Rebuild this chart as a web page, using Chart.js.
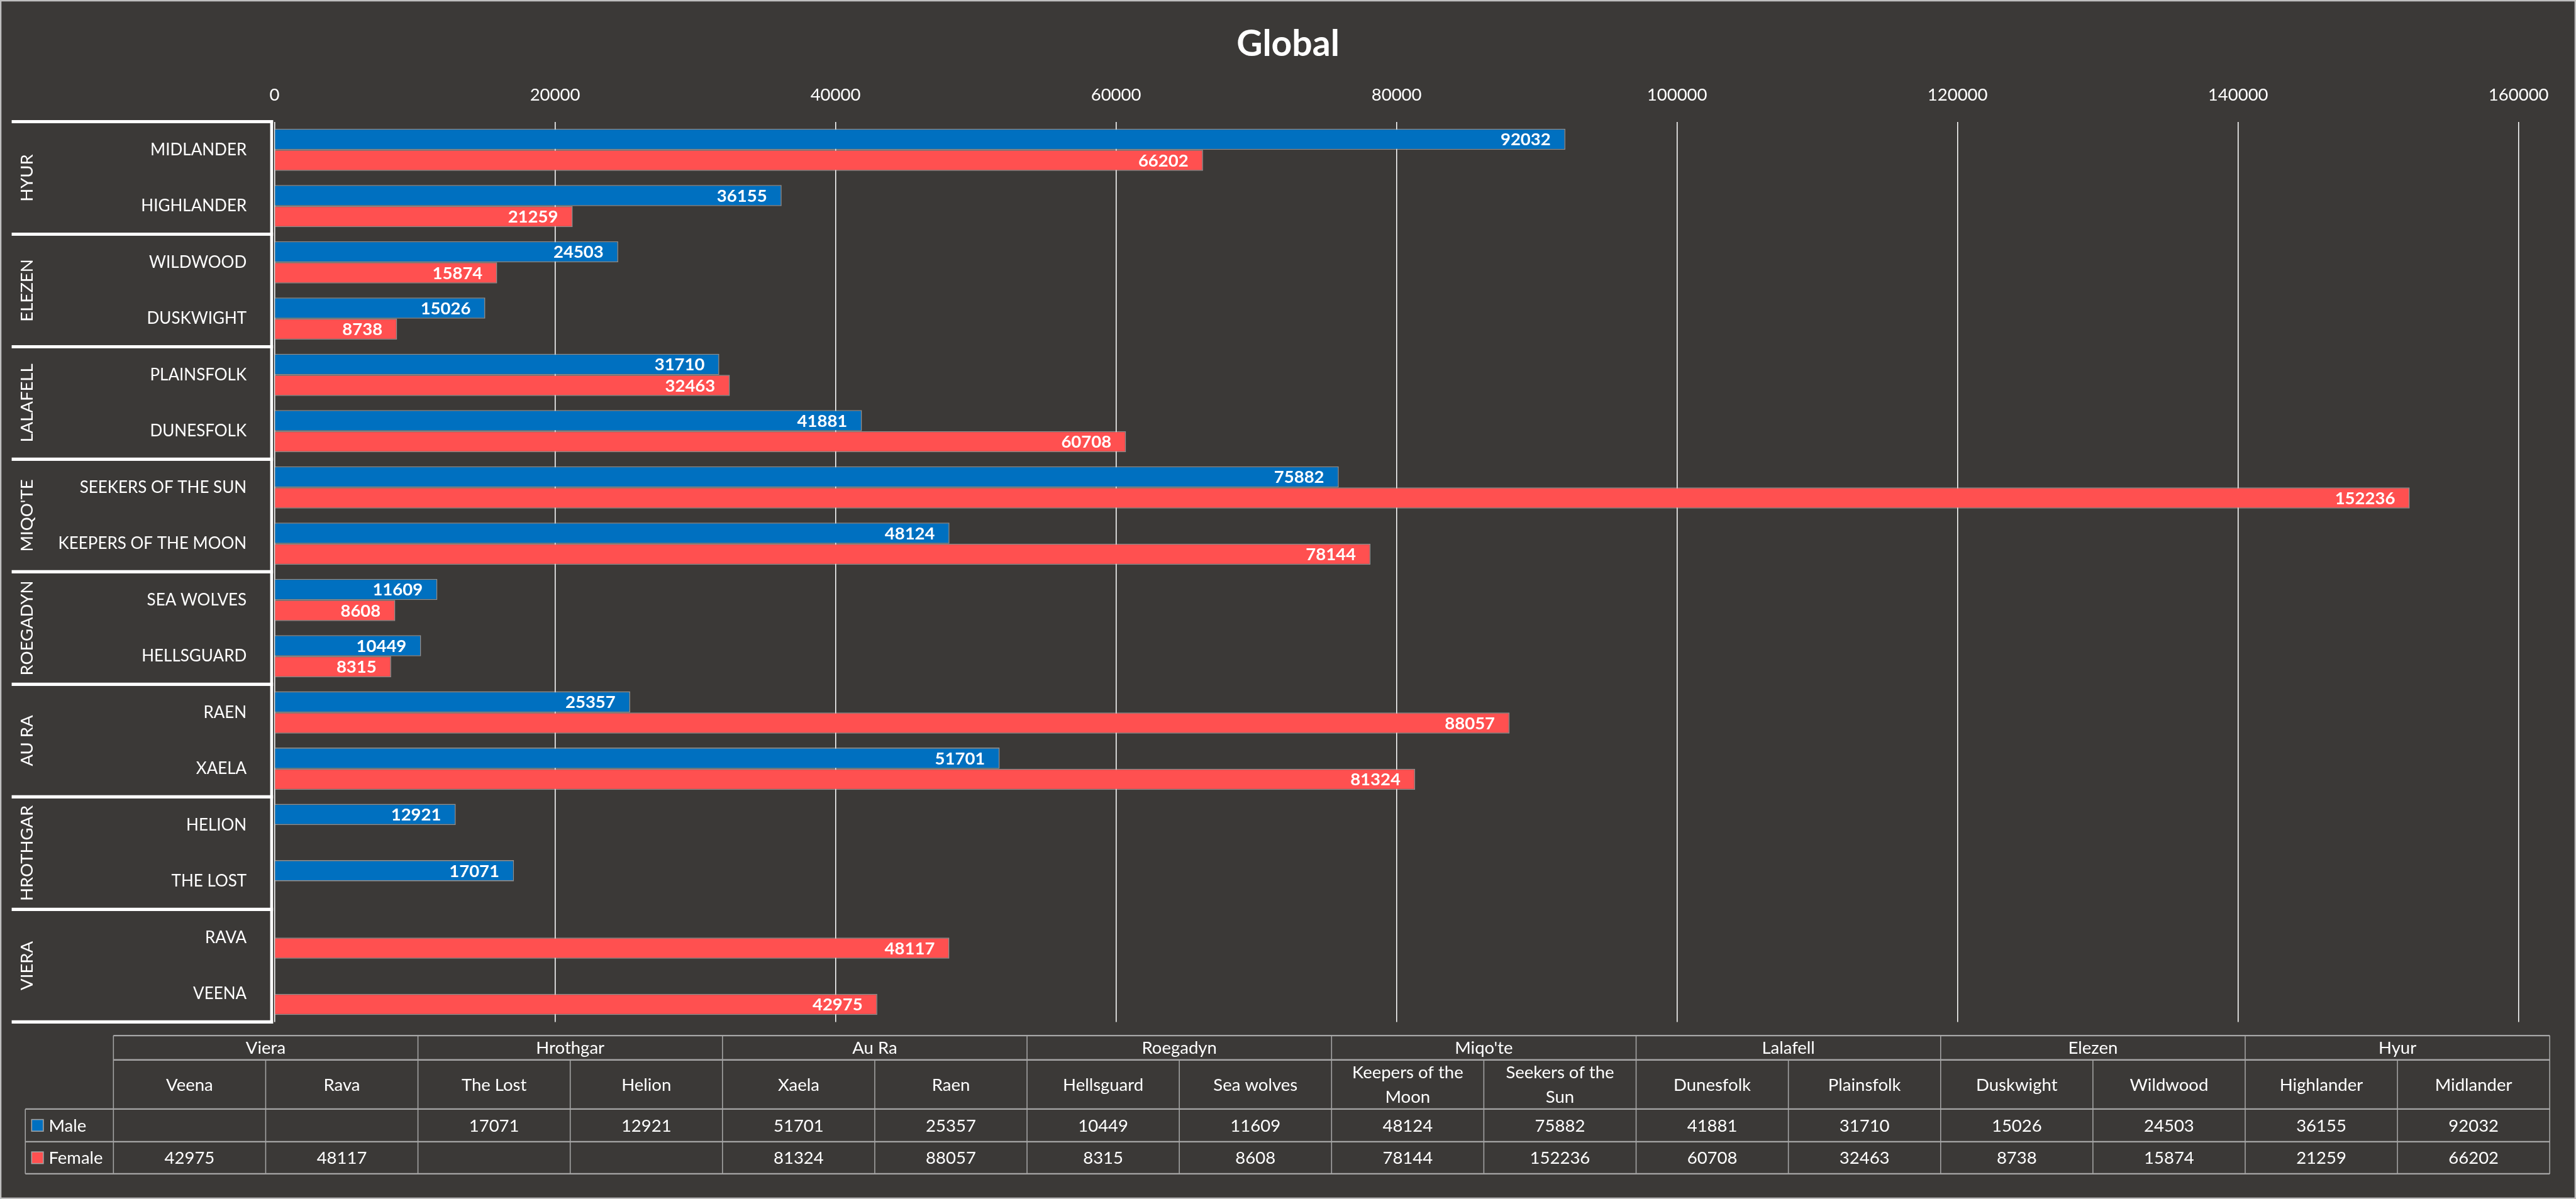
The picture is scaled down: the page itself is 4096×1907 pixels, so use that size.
<!DOCTYPE html>
<html>
<head>
<meta charset="utf-8">
<title>Global</title>
<script src="https://cdn.jsdelivr.net/npm/chart.js@4/dist/chart.umd.min.js"></script>
<style>
  html, body { margin: 0; padding: 0; background: #3b3937; }
  canvas { display: block; }
</style>
</head>
<body>
<canvas id="chart" width="4096" height="1907"></canvas>
<script>
// data, in the order of the data table under the chart (Excel order, bottom to top on the chart)
const races = ['Viera', 'Hrothgar', 'Au Ra', 'Roegadyn', "Miqo'te", 'Lalafell', 'Elezen', 'Hyur'];
const subraces = ['Veena', 'Rava', 'The Lost', 'Helion', 'Xaela', 'Raen', 'Hellsguard', 'Sea wolves',
    'Keepers of the Moon', 'Seekers of the Sun', 'Dunesfolk', 'Plainsfolk', 'Duskwight', 'Wildwood',
    'Highlander', 'Midlander'];
const male = [null, null, 17071, 12921, 51701, 25357, 10449, 11609, 48124, 75882, 41881, 31710, 15026, 24503, 36155, 92032];
const female = [42975, 48117, null, null, 81324, 88057, 8315, 8608, 78144, 152236, 60708, 32463, 8738, 15874, 21259, 66202];
const xTickValues = [0, 20000, 40000, 60000, 80000, 100000, 120000, 140000, 160000];
const chartTitle = 'Global';

const S = 0.774;               // reference -> window scale
const px = v => v * S;
const FONT = 'Lato';
const FS = 27.5;               // base text size
const BLUE = '#0070c0';
const RED = '#ff5050';

// chart runs top to bottom, so flip the table order
const labelsTopDown = subraces.slice().reverse().map(s => s.toUpperCase());
const racesTopDown = races.slice().reverse().map(r => r.toUpperCase());
const maleTopDown = male.slice().reverse();
const femaleTopDown = female.slice().reverse();

// draw text with its cap height centred on y
const midText = (ctx, str, x, y, size) => {
    ctx.textBaseline = 'alphabetic';
    ctx.fillText(str, x, y + size * 0.358);
};

const background = {
    id: 'background',
    beforeDraw(chart) {
        const { ctx, width, height } = chart;
        ctx.save();
        ctx.fillStyle = '#3b3937';
        ctx.fillRect(0, 0, width, height);
        ctx.strokeStyle = '#bfbfbf';
        ctx.lineWidth = px(3);
        ctx.strokeRect(px(1.5), px(1.5), width - px(3), height - px(3));
        ctx.restore();
    }
};

// title centred on the whole picture, not on the plot
const heading = {
    id: 'heading',
    afterDraw(chart) {
        const { ctx, width } = chart;
        ctx.save();
        ctx.fillStyle = '#ffffff';
        ctx.font = `bold 57px ${FONT}`;
        ctx.textAlign = 'center';
        midText(ctx, chartTitle, width / 2, px(88.5), 57);
        ctx.restore();
    }
};

// the white frame with race names on the left
const categoryBox = {
    id: 'categoryBox',
    afterDatasetsDraw(chart) {
        const { ctx, chartArea, scales: { y } } = chart;
        const step = (chartArea.bottom - chartArea.top) / labelsTopDown.length;
        ctx.save();
        ctx.strokeStyle = '#ffffff';
        ctx.lineWidth = px(6.7);
        for (let g = 0; g <= racesTopDown.length; g++) {
            const yy = g < racesTopDown.length ? y.getPixelForValue(g * 2) - step / 2 : chartArea.bottom;
            ctx.beginPath();
            ctx.moveTo(px(24), yy);
            ctx.lineTo(px(561), yy);
            ctx.stroke();
        }
        ctx.lineWidth = px(6);
        ctx.beginPath();
        ctx.moveTo(px(558), chartArea.top - px(3.3));
        ctx.lineTo(px(558), chartArea.bottom + px(3.3));
        ctx.stroke();

        ctx.fillStyle = '#ffffff';
        ctx.font = `${FS}px ${FONT}`;
        ctx.textAlign = 'center';
        racesTopDown.forEach((r, g) => {
            const cy = (y.getPixelForValue(g * 2) + y.getPixelForValue(g * 2 + 1)) / 2;
            ctx.save();
            ctx.translate(px(54.7), cy);
            ctx.rotate(-Math.PI / 2);
            midText(ctx, r, 0, 0, FS);
            ctx.restore();
        });
        ctx.restore();
    }
};

// bold value inside the end of each bar
const valueLabels = {
    id: 'valueLabels',
    afterDatasetsDraw(chart) {
        const { ctx } = chart;
        ctx.save();
        ctx.font = `bold ${FS}px ${FONT}`;
        ctx.fillStyle = '#ffffff';
        ctx.textAlign = 'right';
        chart.data.datasets.forEach((ds, i) => {
            chart.getDatasetMeta(i).data.forEach((bar, j) => {
                const v = ds.data[j];
                if (v == null) return;
                midText(ctx, String(v), bar.x - px(30), bar.y, FS);
            });
        });
        ctx.restore();
    }
};

// Excel style data table under the chart
const dataTable = {
    id: 'dataTable',
    afterDraw(chart) {
        const { ctx } = chart;
        const left = px(233), keyLeft = px(52), right = px(5238);
        const rows = [2128, 2178, 2279, 2346, 2412].map(px);
        const colW = (right - left) / subraces.length;
        const line = (x1, y1, x2, y2) => {
            ctx.beginPath(); ctx.moveTo(x1, y1); ctx.lineTo(x2, y2); ctx.stroke();
        };
        const wrap = (str, maxW) => {
            const words = str.split(' ');
            const out = [];
            let cur = '';
            words.forEach(w => {
                const t = cur ? cur + ' ' + w : w;
                if (ctx.measureText(t).width > maxW && cur) { out.push(cur); cur = w; } else cur = t;
            });
            out.push(cur);
            return out;
        };

        ctx.save();
        ctx.strokeStyle = '#a6a6a6';
        ctx.lineWidth = px(3);
        line(left, rows[0], right, rows[0]);
        line(left, rows[1], right, rows[1]);
        for (let r = 2; r < rows.length; r++) line(keyLeft, rows[r], right, rows[r]);
        ctx.lineWidth = px(2);
        line(keyLeft, rows[2], keyLeft, rows[4]);
        for (let i = 0; i <= subraces.length; i++) {
            const x = left + i * colW;
            line(x, i % 2 === 0 ? rows[0] : rows[1], x, rows[4]);
        }

        ctx.fillStyle = '#ffffff';
        ctx.font = `${FS}px ${FONT}`;
        ctx.textAlign = 'center';
        races.forEach((r, i) => midText(ctx, r, left + (2 * i + 1) * colW, (rows[0] + rows[1]) / 2, FS));
        subraces.forEach((s, i) => {
            const lines = wrap(s, colW * 0.88);
            const cy = (rows[1] + rows[2]) / 2;
            lines.forEach((ln, k) => {
                midText(ctx, ln, left + (i + 0.5) * colW, cy + (k - (lines.length - 1) / 2) * px(50), FS);
            });
        });
        [male, female].forEach((series, r) => {
            const cy = (rows[2 + r] + rows[3 + r]) / 2;
            series.forEach((v, i) => {
                if (v != null) midText(ctx, String(v), left + (i + 0.5) * colW, cy, FS);
            });
        });

        // legend keys
        chart.data.datasets.forEach((ds, r) => {
            const cy = (rows[2 + r] + rows[3 + r]) / 2;
            const k = px(24);
            ctx.fillStyle = ds.backgroundColor;
            ctx.fillRect(px(65), cy - k / 2, k, k);
            ctx.strokeStyle = '#a6a6a6';
            ctx.lineWidth = px(2);
            ctx.strokeRect(px(65), cy - k / 2, k, k);
            ctx.fillStyle = '#ffffff';
            ctx.textAlign = 'left';
            midText(ctx, ds.label, px(100), cy, FS);
        });
        ctx.restore();
    }
};

new Chart(document.getElementById('chart'), {
    type: 'bar',
    data: {
        labels: labelsTopDown,
        datasets: [
            { label: 'Male', data: maleTopDown, backgroundColor: BLUE, borderColor: 'rgba(205,205,205,0.6)', borderWidth: px(2) },
            { label: 'Female', data: femaleTopDown, backgroundColor: RED, borderColor: 'rgba(205,205,205,0.6)', borderWidth: px(2) }
        ]
    },
    options: {
        indexAxis: 'y',
        responsive: false,
        animation: false,
        devicePixelRatio: 1,
        layout: { padding: { left: 0, right: 91.3, top: 0, bottom: 281.6 } },
        datasets: { bar: { categoryPercentage: 0.75, barPercentage: 1 } },
        plugins: {
            legend: { display: false },
            tooltip: { enabled: false },
            title: { display: false }
        },
        scales: {
            x: {
                position: 'top',
                min: 0,
                max: 160000,
                afterBuildTicks: s => { s.ticks = xTickValues.map(v => ({ value: v })); },
                afterFit: s => { s.height = 193.5; },
                grid: { color: '#ffffff', lineWidth: px(2), drawTicks: false },
                border: { display: false },
                ticks: {
                    color: '#ffffff',
                    font: { family: FONT, size: FS },
                    padding: 26,
                    maxRotation: 0,
                    callback: v => String(v)
                }
            },
            y: {
                afterFit: s => { s.width = 436.5; },
                grid: { display: false },
                border: { display: false },
                ticks: {
                    color: '#ffffff',
                    font: { family: FONT, size: 26 },
                    padding: 36.3,
                    autoSkip: false
                }
            }
        }
    },
    plugins: [background, categoryBox, valueLabels, dataTable, heading]
});
</script>
</body>
</html>
